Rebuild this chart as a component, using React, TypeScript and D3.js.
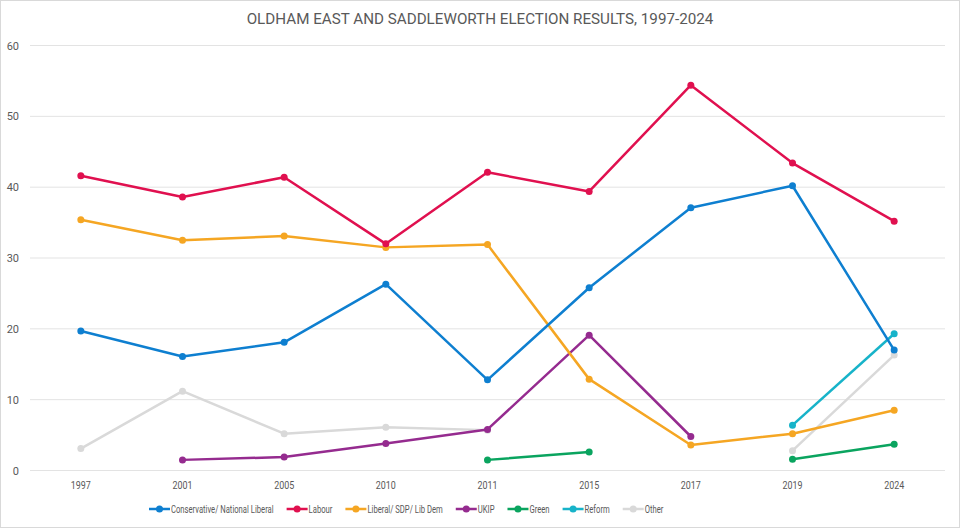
import { useEffect, useRef } from 'react';
import * as d3 from 'd3';

const years = ['1997', '2001', '2005', '2010', '2011', '2015', '2017', '2019', '2024'];

// null = party did not stand
const conservative = [19.7, 16.1, 18.1, 26.3, 12.8, 25.8, 37.1, 40.2, 17.0];
const labour = [41.6, 38.6, 41.4, 32.0, 42.1, 39.4, 54.4, 43.4, 35.2];
const libDem = [35.4, 32.5, 33.1, 31.5, 31.9, 12.9, 3.6, 5.2, 8.5];
const ukip = [null, 1.5, 1.9, 3.8, 5.8, 19.1, 4.8, null, null];
const green = [null, null, null, null, 1.5, 2.6, null, 1.6, 3.7];
const reform = [null, null, null, null, null, null, null, 6.4, 19.3];
const other = [3.1, 11.2, 5.2, 6.1, 5.7, null, null, 2.8, 16.3];

const yTicks = [0, 10, 20, 30, 40, 50, 60];

const series = [
  { name: 'Conservative/ National Liberal', values: conservative, color: '#0e7fd0' },
  { name: 'Labour', values: labour, color: '#e0104f' },
  { name: 'Liberal/ SDP/ Lib  Dem', values: libDem, color: '#f5a623' },
  { name: 'UKIP', values: ukip, color: '#952b8f' },
  { name: 'Green', values: green, color: '#0aa45f' },
  { name: 'Reform', values: reform, color: '#17b3c9' },
  { name: 'Other', values: other, color: '#d9d9d9' },
];

const W = 960;
const H = 528;
const FONT = 'Roboto, "Liberation Sans", sans-serif';
const SQUEEZE = 0.73; // reference font is narrow

export default function App() {
  const svgRef = useRef<SVGSVGElement>(null);

  useEffect(() => {
    if (!svgRef.current) return;
    document.body.style.margin = '0';
    const svg = d3.select(svgRef.current);
    svg.selectAll('*').remove();

    svg.append('rect')
      .attr('x', 0.5).attr('y', 0.5)
      .attr('width', W - 1).attr('height', H - 1)
      .attr('fill', '#ffffff')
      .attr('stroke', '#d9d9d9');

    const x = d3.scaleBand<string>().domain(years).range([30, 945]);
    const y = d3.scaleLinear().domain([0, 60]).range([470.5, 45.5]);
    const cx = (yr: string) => (x(yr) ?? 0) + x.bandwidth() / 2;

    // title
    svg.append('text')
      .attr('x', 480).attr('y', 24)
      .attr('text-anchor', 'middle')
      .attr('font-family', FONT)
      .attr('font-size', 15.2)
      .attr('fill', '#595959')
      .text('OLDHAM EAST AND SADDLEWORTH ELECTION RESULTS, 1997-2024');

    // gridlines
    svg.append('g').selectAll('line')
      .data(yTicks)
      .join('line')
      .attr('x1', 30).attr('x2', 945)
      .attr('y1', d => y(d)).attr('y2', d => y(d))
      .attr('stroke', '#e3e3e3')
      .attr('stroke-width', 1);

    svg.append('g').selectAll('text')
      .data(yTicks)
      .join('text')
      .attr('x', 19).attr('y', d => y(d) + 4)
      .attr('text-anchor', 'end')
      .attr('font-family', FONT)
      .attr('font-size', 11)
      .attr('fill', '#595959')
      .text(d => d);

    svg.append('g').selectAll('text')
      .data(years)
      .join('text')
      .attr('transform', d => `translate(${cx(d)},489) scale(0.85,1)`)
      .attr('text-anchor', 'middle')
      .attr('font-family', FONT)
      .attr('font-size', 10.5)
      .attr('fill', '#595959')
      .text(d => d);

    const line = d3.line<number | null>()
      .defined(d => d != null)
      .x((_, i) => cx(years[i]))
      .y(d => y(d as number));

    // draw in reverse so Conservative/Labour sit on top
    [...series].reverse().forEach(s => {
      svg.append('path')
        .attr('d', line(s.values) || '')
        .attr('fill', 'none')
        .attr('stroke', s.color)
        .attr('stroke-width', 2.5)
        .attr('stroke-linejoin', 'round');
      svg.append('g').selectAll('circle')
        .data(s.values.map((v, i) => ({ v, yr: years[i] })).filter(d => d.v != null))
        .join('circle')
        .attr('cx', d => cx(d.yr))
        .attr('cy', d => y(d.v as number))
        .attr('r', 3.5)
        .attr('fill', s.color);
    });

    // legend
    const legend = svg.append('g').attr('transform', 'translate(149,509)');
    let offset = 0;
    series.forEach(s => {
      const g = legend.append('g').attr('transform', `translate(${offset},0)`);
      g.append('line')
        .attr('x1', 0).attr('x2', 21)
        .attr('y1', 0).attr('y2', 0)
        .attr('stroke', s.color).attr('stroke-width', 2.5);
      g.append('circle').attr('cx', 10.5).attr('cy', 0).attr('r', 3.5).attr('fill', s.color);
      const t = g.append('text')
        .attr('transform', `translate(22,3.7) scale(${SQUEEZE},1)`)
        .attr('font-family', FONT)
        .attr('font-size', 10.5)
        .attr('fill', '#595959')
        .text(s.name);
      const tw = (t.node() as SVGTextElement).getComputedTextLength() * SQUEEZE;
      offset += 22 + tw + 13;
    });
  }, []);

  return <svg ref={svgRef} width={W} height={H} style={{ display: 'block' }} />;
}
